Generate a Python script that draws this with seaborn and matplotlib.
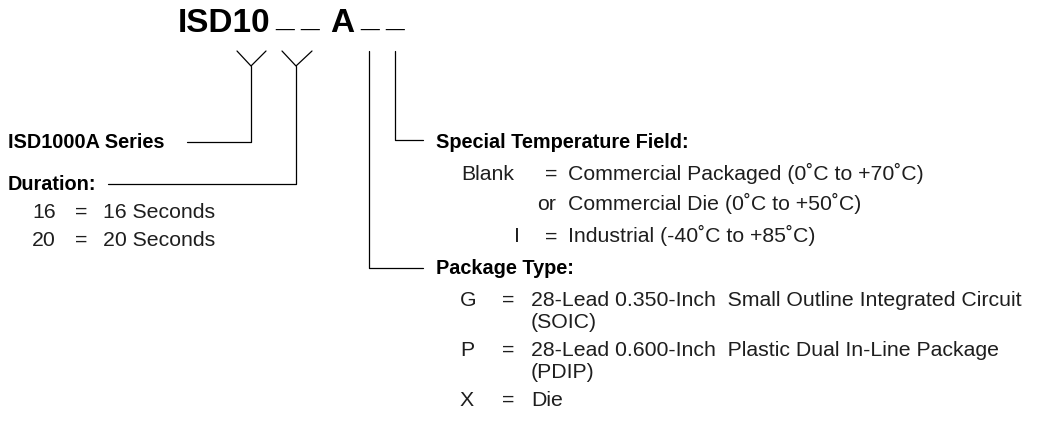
import pandas as pd
import matplotlib.pyplot as plt
import seaborn as sns

# Ordering-information text
title_tokens = ["ISD10", "_", "_", "A", "_", "_"]
series_label = "ISD1000A Series"
duration_label = "Duration:"
duration_codes = ["16", "20"]
duration_desc = ["16 Seconds", "20 Seconds"]
temp_label = "Special Temperature Field:"
temp_codes = ["Blank", "", "I"]
temp_sep = ["=", "or", "="]
temp_desc = ["Commercial Packaged (0˚C to +70˚C)",
             "Commercial Die (0˚C to +50˚C)",
             "Industrial (-40˚C to +85˚C)"]
package_label = "Package Type:"
package_codes = ["G", "P", "X"]
package_desc = [["28-Lead 0.350-Inch  Small Outline Integrated Circuit", "(SOIC)"],
                ["28-Lead 0.600-Inch  Plastic Dual In-Line Package", "(PDIP)"],
                ["Die"]]

sns.set_theme(style="white")
plt.rcParams['font.family'] = ['Liberation Sans', 'DejaVu Sans']

fig = plt.figure(figsize=(10.42, 4.21), dpi=100)
ax = fig.add_axes([0, 0, 1, 1])

# connector paths (layout, pixel space)
paths = {
    'y1': [(237, 51), (251, 66), (266, 51)],
    'y1s': [(251, 66), (251, 142), (187, 142)],
    'y2': [(282, 51), (296, 66), (312, 51)],
    'y2s': [(296, 66), (296, 184), (108, 184)],
    'pk': [(369, 51), (369, 268), (423, 268)],
    'tp': [(395, 51), (395, 140), (423, 140)],
}
rows = []
for k, pts in paths.items():
    for i, (x, y) in enumerate(pts):
        rows.append({'path': k, 'order': i, 'x': x, 'y': y})
lines = pd.DataFrame(rows)
sns.lineplot(data=lines, x='x', y='y', units='path', estimator=None, sort=False,
             color='black', linewidth=0.9, ax=ax)
ax.set_xlim(0, 1042)
ax.set_ylim(421, 0)
ax.axis('off')

# title
title_x = [178, 275, 300, 330, 360, 385]
for tok, x in zip(title_tokens, title_x):
    yb = 32 if tok != "_" else 27
    ax.text(x, yb, tok, fontsize=24, fontweight='bold', ha='left', va='baseline', color='black')

bold = dict(fontsize=14.3, fontweight='bold', ha='left', va='baseline', color='black')
body = dict(fontsize=15.3, ha='left', va='baseline', color='#1e1e1e')
off = 5.5  # row centre -> baseline

ax.text(8, 142 + off, series_label, **bold)
ax.text(8, 184 + off, duration_label, **bold)
for i, (c, d) in enumerate(zip(duration_codes, duration_desc)):
    y = 212 + i * 28 + off
    ax.text(32, y, c, **body)
    ax.text(75, y, "=", **body)
    ax.text(103, y, d, **body)

ax.text(436, 142 + off, temp_label, **bold)
temp_y = [174, 205, 237]
for c, s, d, y in zip(temp_codes, temp_sep, temp_desc, temp_y):
    y = y + off
    if c == "I":
        ax.text(514, y, c, **body)
    elif c:
        ax.text(461, y, c, **body)
    ax.text(545 if s == "=" else 537, y, s, **body)
    ax.text(568, y, d, **body)

ax.text(436, 268 + off, package_label, **bold)
pkg_y = [300, 350, 400]
for c, d, y in zip(package_codes, package_desc, pkg_y):
    y = y + off
    ax.text(460, y, c, **body)
    ax.text(502, y, "=", **body)
    for j, line in enumerate(d):
        ax.text(531, y + j * 22, line, **body)

plt.savefig('out.png', dpi=100)
